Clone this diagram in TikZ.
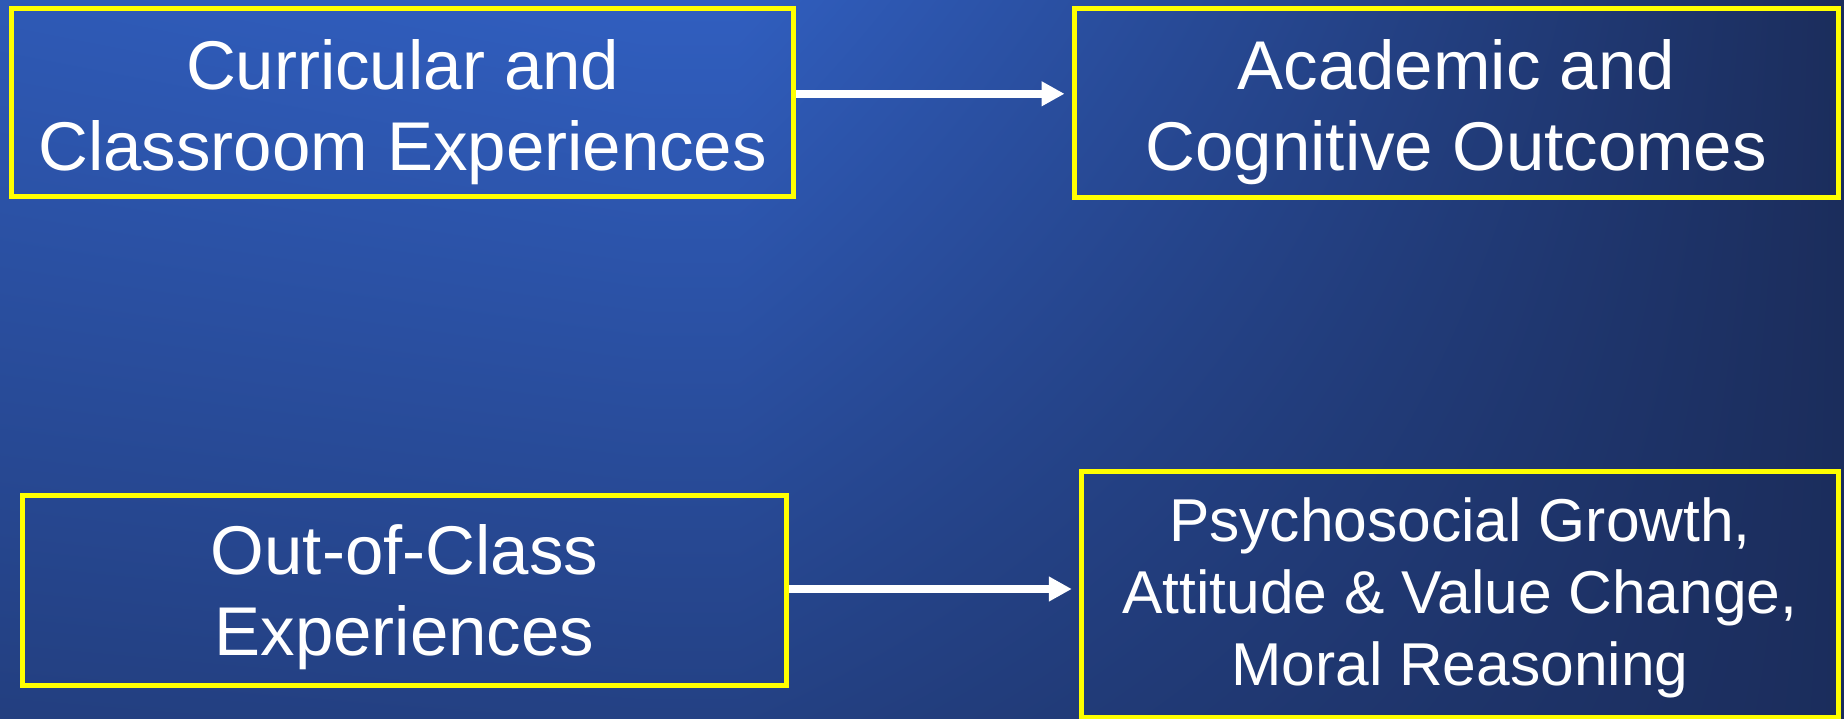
\documentclass[tikz,border=0pt]{standalone}
\usepackage{fontspec}
\setmainfont{Liberation Sans}
\usetikzlibrary{arrows.meta}

% Slide background: bright blue towards the upper left, deep navy to the right and bottom.
% The path covers 25..75bp of the shading on both axes.
\pgfdeclarefunctionalshading{slidebg}{\pgfpoint{0bp}{0bp}}{\pgfpoint{100bp}{100bp}}{}{
  25 sub 50 div 1 exch sub
  dup 0 lt {pop 0} if dup 1 gt {pop 1} if
  0.6 mul 1 exch sub
  exch 25 sub 50 div
  dup 0.40 sub 0.60 div
  dup 0 lt {pop 0} if dup 1 gt {pop 1} if
  exch 0.35 exch sub 0.35 div
  dup 0 lt {pop 0} if dup 1 gt {pop 1} if
  0.1 mul add
  1 exch sub mul 1 exch sub
  dup -0.084 mul 0.19 add exch
  dup -0.194 mul 0.37 add exch
  -0.39 mul 0.75 add
}

\definecolor{frameyellow}{HTML}{FFFF00}

\tikzset{
  topicbox/.style={draw=frameyellow, line width=5pt, rectangle, inner sep=0pt,
    align=center, text=white, font=\fontsize{69}{81.5}\selectfont},
  smallbox/.style={topicbox, font=\fontsize{60.5}{72}\selectfont},
  flow/.style={draw=white, line width=7.6pt,
    -{Triangle[length=23pt,width=23.5pt]}}
}

\begin{document}
\begin{tikzpicture}[x=1pt,y=-1pt]
  \shade[shading=slidebg] (0,0) rectangle (1844,719);
  \useasboundingbox (0,0) rectangle (1844,719);

  \node[topicbox, minimum width=782, minimum height=188.5] (b1) at (402.7,102.75)
    {\rule{0pt}{72pt}Curricular and\\Classroom Experiences\rule[-17pt]{0pt}{17pt}};
  \node[topicbox, minimum width=763.5, minimum height=189] (b2) at (1456.25,103)
    {\rule{0pt}{71.5pt}Academic and\\Cognitive Outcomes\rule[-17pt]{0pt}{17pt}};
  \node[topicbox, minimum width=763.6, minimum height=189.7] (b3) at (404.5,590.15)
    {\rule{0pt}{66.2pt}Out-of-Class\\Experiences\rule[-17pt]{0pt}{17pt}};
  \node[smallbox, minimum width=756.3, minimum height=246] (b4) at (1459.85,594)
    {\rule{0pt}{53pt}Psychosocial Growth,\\Attitude \& Value Change,\\Moral Reasoning\rule[-15pt]{0pt}{15pt}};

  % arrows between the boxes
  \path (b1.east) ++(0,-8.95) coordinate (s1);
  \draw[flow, shorten >=7.5pt] (s1) -- (s1 -| b2.west);
  \path (b3.east) ++(0,-1.15) coordinate (s2);
  \draw[flow, shorten >=7.4pt] (s2) -- (s2 -| b4.west);
\end{tikzpicture}
\end{document}
